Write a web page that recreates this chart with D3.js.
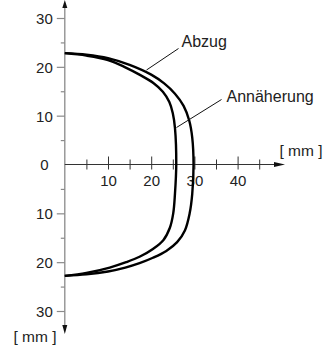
<!DOCTYPE html>
<html><head><meta charset="utf-8">
<script src="https://cdn.jsdelivr.net/npm/d3@7"></script>
<style>
html,body{margin:0;padding:0;background:#fff;}
svg{display:block;font-family:"Liberation Sans",Arial,Helvetica,sans-serif;}
</style></head>
<body>
<svg id="c" width="323" height="347"></svg>
<script>
// data (mm)
const xMajorTicks = [10, 20, 30, 40];
const xMinorTicks = [5, 15, 25, 35, 45];
const yMajorTicks = [-30, -20, -10, 10, 20, 30];
const yMinorTicks = [-25, -15, -5, 5, 15, 25];
const unitLabel = "[ mm ]";
const seriesNames = ["Abzug", "Annäherung"];
// Abzug (outer curve): [x, y]
const abzugX = [0, 5, 10, 15, 20, 23, 25.5, 27.5, 28.8, 29.5, 29.8, 29.5, 28.9, 27.8, 26.0, 23.5, 20.4, 17.3, 14.0, 10.0, 5, 0];
const abzugY = [22.8, 22.5, 21.8, 20.4, 18.4, 16.6, 14.5, 12.0, 9.0, 5.5, 0, -6, -10, -13.5, -15.9, -17.7, -19.1, -20.2, -21.1, -21.9, -22.5, -22.8];
// Annäherung (inner curve)
const annX = [0, 5, 10, 14, 17.5, 20.5, 22.7, 24.2, 25.0, 25.5, 25.8, 25.5, 25.1, 24.3, 22.8, 20.4, 17.3, 14.2, 10.4, 5, 0];
const annY = [22.8, 22.3, 21.4, 19.9, 18.3, 16.7, 14.9, 12.8, 10.5, 7.5, 0, -6, -10, -13, -15.5, -17.3, -18.9, -20.0, -21.1, -22.2, -22.8];

const svg = d3.select("#c");
const x = d3.scaleLinear().domain([0, 50]).range([64.8, 280.8]);
const y = d3.scaleLinear().domain([-30, 30]).range([311.0, 18.0]);

const axisGray = "#8a8a8a", axisDark = "#333", textCol = "#222";

// y axis line with arrows
svg.append("line").attr("x1", x(0)).attr("x2", x(0)).attr("y1", 3).attr("y2", 330)
  .attr("stroke", axisGray).attr("stroke-width", 1.3);
svg.append("path").attr("d", `M${x(0)},0 L${x(0)-2.5},8 L${x(0)+2.5},8 Z`).attr("fill", "#111");
svg.append("path").attr("d", `M${x(0)},334 L${x(0)-2.5},325 L${x(0)+2.5},325 Z`).attr("fill", "#111");

// y ticks
const gyMaj = svg.append("g").attr("transform", `translate(${x(0)},0)`)
  .call(d3.axisLeft(y).tickValues(yMajorTicks).tickSize(8).tickPadding(4).tickFormat(d => Math.abs(d)));
gyMaj.select(".domain").remove();
gyMaj.selectAll("line").attr("stroke", axisGray).attr("stroke-width", 1.2);
gyMaj.selectAll("text").attr("font-size", 15).attr("fill", textCol).attr("font-family", null).attr("dy", "0.36em");
const gyMin = svg.append("g").attr("transform", `translate(${x(0)},0)`)
  .call(d3.axisLeft(y).tickValues(yMinorTicks).tickSize(4).tickFormat(""));
gyMin.select(".domain").remove();
gyMin.selectAll("line").attr("stroke", axisGray).attr("stroke-width", 1.2);

// x axis line with arrow
svg.append("line").attr("x1", x(0)).attr("x2", 276).attr("y1", y(0)).attr("y2", y(0))
  .attr("stroke", axisDark).attr("stroke-width", 1.2);
svg.append("path").attr("d", `M285,${y(0)} L274,${y(0)-2.5} L274,${y(0)+2.5} Z`).attr("fill", "#111");

const gxMaj = svg.append("g").attr("transform", `translate(0,${y(0)})`)
  .call(d3.axisBottom(x).tickValues(xMajorTicks).tickSize(5).tickFormat(d3.format("d")));
gxMaj.select(".domain").remove();
gxMaj.selectAll("line").attr("y1", -8).attr("y2", 5).attr("stroke", axisDark).attr("stroke-width", 1);
gxMaj.selectAll("text").attr("y", 21.5).attr("dy", null).attr("font-size", 15).attr("fill", textCol).attr("font-family", null);
const gxMin = svg.append("g").attr("transform", `translate(0,${y(0)})`)
  .call(d3.axisBottom(x).tickValues(xMinorTicks).tickSize(5).tickFormat(""));
gxMin.select(".domain").remove();
gxMin.selectAll("line").attr("y1", -5).attr("y2", 5).attr("stroke", axisDark).attr("stroke-width", 1);

// origin label
svg.append("text").attr("x", 48.5).attr("y", y(0) + 5.5).attr("text-anchor", "end")
  .attr("font-size", 15).attr("fill", textCol).text("0");

// unit labels
svg.append("text").attr("x", 301).attr("y", 155.5).attr("text-anchor", "middle")
  .attr("font-size", 15.5).attr("fill", textCol).text(unitLabel);
svg.append("text").attr("x", 35).attr("y", 341.5).attr("text-anchor", "middle")
  .attr("font-size", 15.5).attr("fill", textCol).text(unitLabel);

// curves
const line = d3.line().x(d => x(d[0])).y(d => y(d[1])).curve(d3.curveCatmullRom.alpha(0.5));
const abzug = abzugX.map((v, i) => [v, abzugY[i]]);
const ann = annX.map((v, i) => [v, annY[i]]);
svg.append("path").attr("d", line(abzug)).attr("fill", "none").attr("stroke", "#000").attr("stroke-width", 2.4);
svg.append("path").attr("d", line(ann)).attr("fill", "none").attr("stroke", "#000").attr("stroke-width", 2.4);

// annotations with leader lines
svg.append("line").attr("x1", 178.5).attr("y1", 48.5).attr("x2", 146.5).attr("y2", 70)
  .attr("stroke", "#111").attr("stroke-width", 1);
svg.append("text").attr("x", 181.5).attr("y", 46.5).attr("font-size", 16).attr("fill", textCol).text(seriesNames[0]);
svg.append("line").attr("x1", 221.5).attr("y1", 99.5).attr("x2", 176.5).attr("y2", 127.5)
  .attr("stroke", "#111").attr("stroke-width", 1);
svg.append("text").attr("x", 226.5).attr("y", 101.5).attr("font-size", 16).attr("fill", textCol).text(seriesNames[1]);
</script>
</body></html>
